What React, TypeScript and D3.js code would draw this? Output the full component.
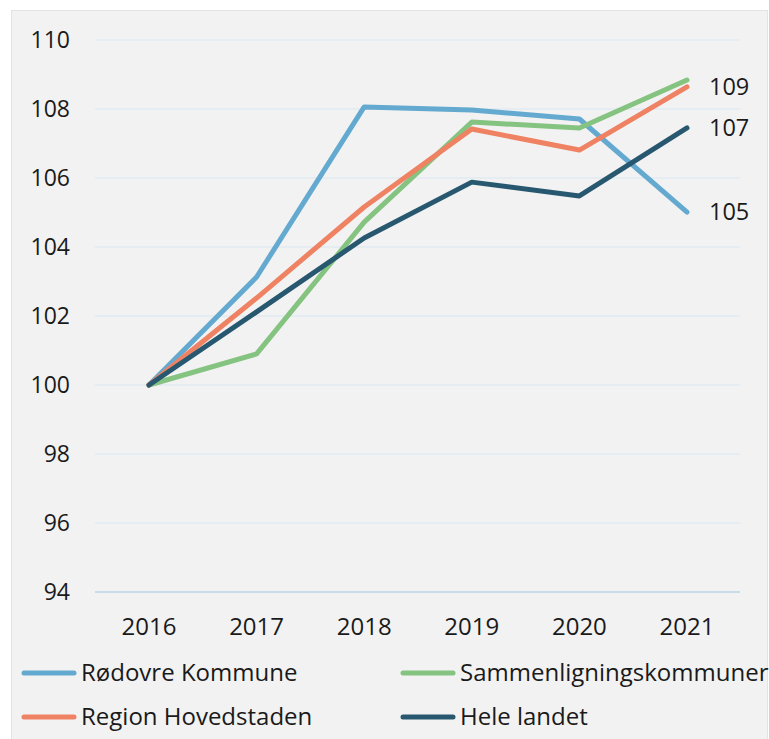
import React from "react";
import * as d3 from "d3";

const years = ["2016", "2017", "2018", "2019", "2020", "2021"];
const yTicks = [94, 96, 98, 100, 102, 104, 106, 108, 110];

const rodovre = [100, 103.13, 108.06, 107.97, 107.71, 105.01];
const sammen = [100, 100.9, 104.72, 107.62, 107.45, 108.84];
const region = [100, 102.52, 105.16, 107.42, 106.81, 108.64];
const hele = [100, 102.12, 104.26, 105.88, 105.48, 107.45];

const seriesNames = ["Rødovre Kommune", "Sammenligningskommuner", "Region Hovedstaden", "Hele landet"];
const seriesColors = ["#64a9cf", "#85c380", "#ef8262", "#28586f"];
const seriesData = [rodovre, sammen, region, hele];
const labelledSeries = [0, 2, 3];

const W = 769;
const H = 739;
const font = "'Open Sans', sans-serif";

export default function App() {
  const x = d3.scalePoint<string>().domain(years).range([149, 687]);
  const y = d3.scaleLinear().domain([94, 110]).range([592, 40]);
  const line = d3
    .line<number>()
    .x((_, i) => x(years[i]) as number)
    .y((d) => y(d));

  const legendPos = [
    { x: 22, y: 673 },
    { x: 401, y: 673 },
    { x: 22, y: 717 },
    { x: 401, y: 717 },
  ];

  return (
    <svg
      width={W}
      height={H}
      style={{ position: "absolute", left: 0, top: 0, background: "#ffffff" }}
      fontFamily={font}
    >
      <rect x={11.5} y={10.5} width={756} height={740} fill="#f2f2f2" stroke="#e3e3e3" strokeWidth={1} />
      {yTicks.map((t) => (
        <g key={t}>
          <line
            x1={95}
            x2={740}
            y1={y(t)}
            y2={y(t)}
            stroke={t === 94 ? "#c9dde9" : "#e0eaf2"}
            strokeWidth={t === 94 ? 2 : 1.5}
          />
          <text x={70} y={y(t)} dy="0.35em" textAnchor="end" fontSize={23} fill="#1a1a1a">
            {t}
          </text>
        </g>
      ))}
      {years.map((yr) => (
        <text key={yr} x={x(yr)} y={627} dy="0.35em" textAnchor="middle" fontSize={24} fill="#1a1a1a">
          {yr}
        </text>
      ))}
      {seriesData.map((s, i) => (
        <path
          key={i}
          d={line(s) || ""}
          fill="none"
          stroke={seriesColors[i]}
          strokeWidth={5}
          strokeLinecap="round"
          strokeLinejoin="round"
        />
      ))}
      {labelledSeries.map((i) => {
        const s = seriesData[i];
        const v = s[s.length - 1];
        return (
          <text key={i} x={709} y={y(v)} dy="0.35em" fontSize={23.5} fill="#1a1a1a">
            {Math.round(v)}
          </text>
        );
      })}
      {seriesNames.map((n, i) => (
        <g key={n}>
          <line
            x1={legendPos[i].x + 2}
            x2={legendPos[i].x + 52}
            y1={legendPos[i].y}
            y2={legendPos[i].y}
            stroke={seriesColors[i]}
            strokeWidth={5}
            strokeLinecap="round"
          />
          <text x={legendPos[i].x + 59} y={legendPos[i].y} dy="0.35em" fontSize={24} fill="#1a1a1a">
            {n}
          </text>
        </g>
      ))}
    </svg>
  );
}
